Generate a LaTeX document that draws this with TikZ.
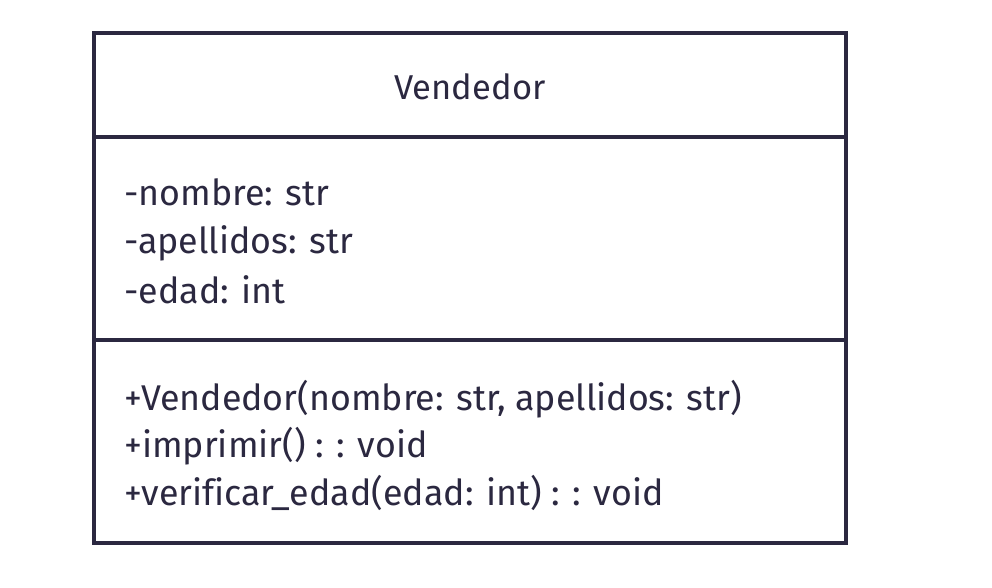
\documentclass[tikz,border=0pt]{standalone}
\usepackage{fontspec}
\setmainfont[Ligatures=NoCommon]{Fira Sans}
\definecolor{ink}{HTML}{2B2840}
\begin{document}
\begin{tikzpicture}[x=1pt,y=-1pt,
  frame/.style={draw=ink,line width=3.6pt},
  txt/.style={anchor=base west,inner sep=0pt,text=ink,font=\fontsize{35.8}{40}\selectfont}]
\useasboundingbox (0,0) rectangle (992,587);
\fill[white] (0,0) rectangle (992,587);
\draw[frame] (94,32.7) rectangle (846,543);
\draw[frame] (94,137) -- (846,137);
\draw[frame] (94,340) -- (846,340);
\node[txt,anchor=base,font=\fontsize{34.5}{40}\selectfont] (title) at (470,99) {Vendedor};
\node[txt] (a1) at (124,205) {-nombre: str};
\node[txt] (a2) at (124,253) {-apellidos: str};
\node[txt] (a3) at (124,303) {-edad: int};
\node[txt] (m1) at (124,410) {+Vendedor(nombre: str, apellidos: str)};
\node[txt] (m2) at (124,457) {+imprimir() : : void};
\node[txt] (m3) at (124,505) {+verificar\_edad(edad: int) : : void};
\end{tikzpicture}
\end{document}
